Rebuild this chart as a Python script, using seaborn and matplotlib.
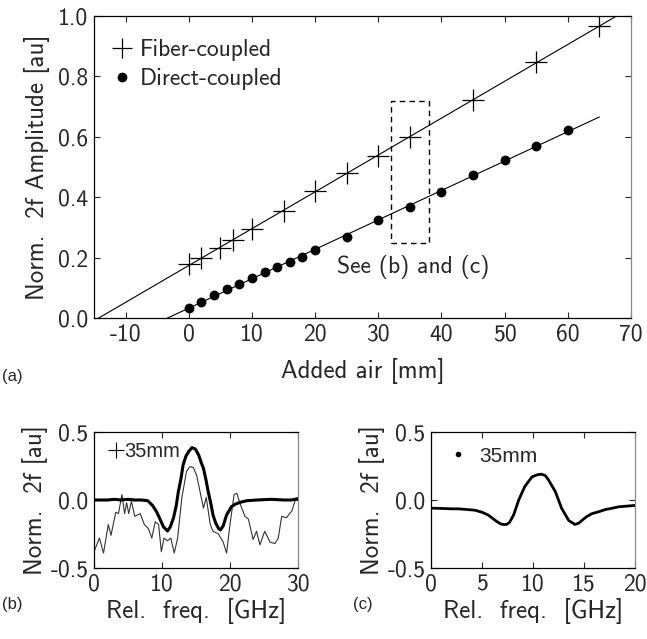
import numpy as np
import pandas as pd
import matplotlib
matplotlib.use("Agg")
import matplotlib.pyplot as plt
import seaborn as sns
from matplotlib.lines import Line2D
from matplotlib.patches import Rectangle

# ---------------- data ----------------
fiber_x = [0, 2, 5, 7, 10, 15, 20, 25, 30, 35, 45, 55, 65]
fiber_y = [0.178, 0.199, 0.233, 0.258, 0.295, 0.354, 0.419, 0.480, 0.538, 0.600, 0.722, 0.848, 0.966]
direct_x = [0, 2, 4, 6, 8, 10, 12, 14, 16, 18, 20, 25, 30, 35, 40, 45, 50, 55, 60]
direct_y = [0.033, 0.053, 0.076, 0.096, 0.113, 0.132, 0.152, 0.169, 0.186, 0.202, 0.225,
            0.268, 0.324, 0.368, 0.417, 0.473, 0.523, 0.570, 0.623]

# panel (b): fiber-coupled, 35 mm
b_thick_f = [0, 1, 2, 3, 4, 5, 6, 7, 7.9, 8.6, 9.2, 9.7, 10.2, 10.8, 11.2, 11.7, 12.1, 12.4,
             12.8, 13.1, 13.5, 13.9, 14.4, 14.9, 15.4, 15.8, 16.1, 16.5, 16.8, 17.2, 17.5,
             17.9, 18.3, 18.6, 19.0, 19.5, 20.2, 20.8, 21.5, 22.5, 24, 26, 28, 29, 30]
b_thick_v = [0, 0, 0, 0.005, 0, 0.005, 0, 0, -0.005, -0.04, -0.086, -0.14, -0.196, -0.228,
             -0.2, -0.13, -0.04, 0.06, 0.16, 0.257, 0.32, 0.355, 0.385, 0.375, 0.33, 0.27,
             0.233, 0.14, 0.06, -0.03, -0.11, -0.17, -0.208, -0.22, -0.19, -0.11, -0.05,
             -0.03, -0.017, -0.005, 0, 0.005, 0, 0, 0.01]
b_thin_f = [0, 0.8, 1.4, 2.1, 2.5, 3.2, 3.6, 4.1, 4.5, 4.8, 5.1, 5.5, 6.0, 6.8, 7.4, 8.0,
            8.5, 9.0, 9.5, 9.9, 10.3, 10.8, 11.3, 11.8, 12.3, 12.9, 13.6, 14.1, 14.6, 15.1,
            15.6, 16.1, 16.5, 17.1, 17.5, 18.3, 19.0, 19.5, 20.0, 20.6, 21.0, 21.5, 22.2,
            22.7, 23.4, 23.9, 24.4, 25.1, 25.9, 26.6, 27.1, 27.6, 28.3, 29.1, 29.6, 30]
b_thin_v = [-0.38, -0.28, -0.39, -0.18, -0.26, -0.09, -0.10, 0.04, -0.10, -0.02, -0.10,
            -0.01, -0.12, -0.10, -0.18, -0.21, -0.28, -0.16, -0.18, -0.38, -0.28, -0.30,
            -0.28, -0.39, -0.28, 0.01, 0.21, 0.245, 0.24, 0.18, 0.06, -0.06, 0.02, -0.18,
            -0.23, -0.25, -0.31, -0.39, -0.18, 0.04, 0.05, -0.03, -0.12, -0.14, -0.29,
            -0.23, -0.33, -0.23, -0.31, -0.32, -0.28, -0.12, -0.13, -0.08, 0.0, 0.0]

# panel (c): direct-coupled, 35 mm
c_f = [0, 1, 2, 2.7, 3.5, 4.3, 5.0, 5.6, 6.3, 6.8, 7.1, 7.4, 7.7, 8.1, 8.6, 9.2, 9.9,
       10.4, 10.8, 11.2, 11.5, 12.2, 12.8, 13.5, 14.1, 14.5, 14.8, 15.3, 15.8, 16.5,
       17.1, 17.8, 18.4, 19.2, 20]
c_v = [-0.06, -0.062, -0.065, -0.065, -0.07, -0.075, -0.09, -0.11, -0.15, -0.175, -0.18,
       -0.18, -0.165, -0.11, 0.0, 0.10, 0.17, 0.185, 0.19, 0.18, 0.15, 0.06, -0.06, -0.15,
       -0.18, -0.17, -0.15, -0.12, -0.10, -0.085, -0.07, -0.06, -0.05, -0.045, -0.04]

main_xticks = [-10, 0, 10, 20, 30, 40, 50, 60, 70]
main_yticks = [0.0, 0.2, 0.4, 0.6, 0.8, 1.0]
zoom_box = (32, 38, 0.25, 0.72)

# ---------------- style ----------------
sns.set_theme(style="ticks")
CM = "cmss10"
plt.rcParams["font.family"] = [CM, "DejaVu Sans"]
plt.rcParams["axes.unicode_minus"] = False
plt.rcParams["axes.linewidth"] = 0.9
plt.rcParams["xtick.direction"] = "in"
plt.rcParams["ytick.direction"] = "in"
FS = 17
LFS = 18

fig = plt.figure(figsize=(6.47, 6.39), dpi=100)
axA = fig.add_axes([94 / 647, 1 - 318 / 639, 537 / 647, 302 / 639])
axB = fig.add_axes([94 / 647, 1 - 568 / 639, 204 / 647, 136 / 639])
axC = fig.add_axes([431 / 647, 1 - 568 / 639, 204 / 647, 136 / 639])

# ---------------- panel (a) ----------------
fit_f = np.polyfit(fiber_x, fiber_y, 1)
fit_d = np.polyfit(direct_x, direct_y, 1)
line_f = pd.DataFrame({"x": [-15, 75], "y": np.polyval(fit_f, [-15, 75])})
line_d = pd.DataFrame({"x": [-15, 65], "y": np.polyval(fit_d, [-15, 65])})
sns.lineplot(data=line_f, x="x", y="y", ax=axA, color="black", lw=0.8)
sns.lineplot(data=line_d, x="x", y="y", ax=axA, color="black", lw=0.8)
sns.scatterplot(x=fiber_x, y=fiber_y, ax=axA, marker="+", s=260, color="black",
                linewidth=0.9, zorder=3)
sns.scatterplot(x=direct_x, y=direct_y, ax=axA, marker="o", s=50, color="black",
                edgecolor="black", linewidth=0, zorder=3)
x0, x1, y0, y1 = zoom_box
axA.add_patch(Rectangle((x0, y0), x1 - x0, y1 - y0, fill=False, ls=(0, (4, 3)),
                        lw=1.0, ec="black"))
axA.text(23.5, 0.17, "See (b) and (c)", fontsize=FS, va="center", ha="left")
axA.set_xlim(-15, 70)
axA.set_ylim(0, 1.0)
axA.set_xticks(main_xticks)
axA.set_yticks(main_yticks)
axA.set_yticklabels([f"{v:.1f}" for v in main_yticks])
axA.set_xlabel("Added air [mm]", fontsize=LFS, labelpad=9)
axA.set_ylabel("Norm.  2f Amplitude [au]", fontsize=LFS, labelpad=6)
leg_handles = [Line2D([], [], marker="+", ls="none", color="black", ms=14, mew=0.9),
               Line2D([], [], marker="o", ls="none", color="black", ms=6)]
axA.legend(leg_handles, ["Fiber-coupled", "Direct-coupled"], loc="upper left",
           frameon=False, fontsize=FS, handletextpad=0.15, handlelength=1.2,
           labelspacing=0.3, borderaxespad=0.0, bbox_to_anchor=(0.008, 0.955))
fig.text(2 / 647, 1 - 376 / 639, "(a)", fontsize=12, family="Liberation Sans",
         va="center", ha="left")

# ---------------- panel (b) ----------------
sns.lineplot(x=b_thin_f, y=b_thin_v, ax=axB, color="#333333", lw=0.8, sort=False)
sns.lineplot(x=b_thick_f, y=b_thick_v, ax=axB, color="black", lw=2.2, sort=False)
axB.set_xlim(0, 30)
axB.set_ylim(-0.5, 0.5)
axB.set_xticks([0, 10, 20, 30])
axB.set_yticks([-0.5, 0.0, 0.5])
axB.set_yticklabels(["-0.5", "0.0", "0.5"])
axB.set_xlabel("Rel.  freq.  [GHz]", fontsize=LFS, labelpad=2)
axB.set_ylabel("Norm.  2f [au]", fontsize=LFS, labelpad=2)
axB.legend([Line2D([], [], marker="+", ls="none", color="black", ms=12, mew=0.8)],
           ["35mm"], loc="upper left", frameon=False, handletextpad=-0.2,
           handlelength=1.2, borderaxespad=0.1, prop={"family": "Liberation Sans", "size": 14.5})
fig.text(2 / 647, 1 - 605 / 639, "(b)", fontsize=12, family="Liberation Sans",
         va="center", ha="left")

# ---------------- panel (c) ----------------
sns.lineplot(x=c_f, y=c_v, ax=axC, color="black", lw=2.0, sort=False)
axC.set_xlim(0, 20)
axC.set_ylim(-0.5, 0.5)
axC.set_xticks([0, 5, 10, 15, 20])
axC.set_yticks([-0.5, 0.0, 0.5])
axC.set_yticklabels(["-0.5", "0.0", "0.5"])
axC.set_xlabel("Rel.  freq.  [GHz]", fontsize=LFS, labelpad=2)
axC.set_ylabel("Norm.  2f [au]", fontsize=LFS, labelpad=2)
axC.legend([Line2D([], [], marker="o", ls="none", color="black", ms=3)],
           ["35mm"], loc="upper left", frameon=False, handletextpad=0.4,
           handlelength=1.2, borderaxespad=0.3, prop={"family": "Liberation Sans", "size": 15})
fig.text(353 / 647, 1 - 605 / 639, "(c)", fontsize=12, family="Liberation Sans",
         va="center", ha="left")

for ax in (axA, axB, axC):
    ax.tick_params(axis="both", which="both", direction="in", length=4, width=0.8,
                   labelsize=FS, top=True, right=True, pad=4)
    for s in ax.spines.values():
        s.set_visible(True)
        s.set_color("black")
    ax.spines["right"].set_color("#888888")
    ax.set_facecolor("white")
    ax.grid(False)

fig.savefig("out.png", dpi=100, facecolor="white")
